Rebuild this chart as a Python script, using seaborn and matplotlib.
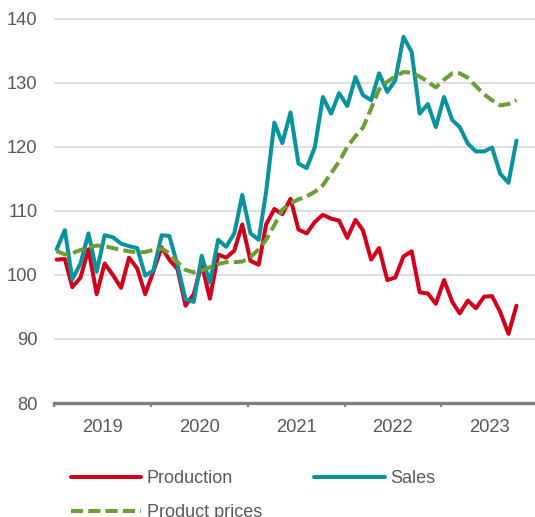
import matplotlib
matplotlib.use("Agg")
import matplotlib.pyplot as plt
import matplotlib.dates as mdates
import pandas as pd
import seaborn as sns

# Monthly values, Jan 2019 - Oct 2023 (index, 2019 = ~100)
months = pd.date_range("2019-01-01", periods=58, freq="MS")

production = [102.4, 102.5, 98.1, 99.6, 104.0, 97.0, 101.8, 100.0, 98.0, 102.7, 101.0, 97.0,
              100.6, 104.3, 102.4, 100.9, 95.2, 97.0, 101.7, 96.3, 103.2, 102.7, 103.8, 107.9,
              102.2, 101.6, 107.9, 110.3, 109.5, 111.9, 107.1, 106.5, 108.3, 109.4, 108.8, 108.5,
              105.8, 108.6, 107.0, 102.4, 104.2, 99.2, 99.6, 102.9, 103.7, 97.3, 97.1, 95.5,
              99.2, 95.8, 94.0, 96.0, 94.8, 96.6, 96.7, 94.2, 90.8, 95.2]

sales = [104.0, 107.0, 99.3, 101.8, 106.5, 100.5, 106.2, 105.9, 104.9, 104.5, 104.2, 99.9,
         100.7, 106.2, 106.1, 101.5, 96.2, 95.8, 103.0, 98.8, 105.5, 104.4, 106.5, 112.5,
         106.5, 105.5, 113.0, 123.8, 120.6, 125.4, 117.4, 116.7, 120.0, 127.8, 125.2, 128.4,
         126.4, 130.9, 128.1, 127.3, 131.5, 128.6, 130.4, 137.2, 134.8, 125.2, 126.7, 123.1,
         127.8, 124.2, 123.1, 120.5, 119.3, 119.3, 119.9, 115.8, 114.4, 121.0]

product_prices = [103.75, 103.2, 103.4, 103.9, 104.3, 104.6, 104.5, 104.2, 103.9, 103.7, 103.5, 103.6,
                  103.9, 104.1, 103.4, 102.0, 100.8, 100.4, 100.7, 101.2, 101.7, 102.0, 102.0, 102.1,
                  102.8, 104.0, 105.5, 107.8, 110.2, 111.2, 111.8, 112.3, 113.0, 114.0, 115.9, 117.7,
                  120.0, 121.7, 123.0, 126.0, 129.0, 130.2, 131.0, 131.7, 131.6, 131.0, 130.2, 129.3,
                  130.5, 131.5, 131.5, 130.8, 129.5, 128.2, 127.3, 126.5, 126.7, 127.3]

years = ["2019", "2020", "2021", "2022", "2023"]

RED = "#D0021B"
TEAL = "#0A939C"
GREEN = "#6B9E37"
GREY_TXT = "#595959"
GREY_AXIS = "#808080"

sns.set_theme(style="white")
plt.rcParams["font.family"] = ["Liberation Sans", "DejaVu Sans"]

df = pd.DataFrame({
    "date": months + pd.Timedelta(days=10),
    "Production": production,
    "Sales": sales,
    "Product prices": product_prices,
})

fig = plt.figure(figsize=(5.35, 5.17), dpi=100)
ax = fig.add_axes([54 / 535, 114 / 517, 481 / 535, 386 / 517])

lw = 2.9
sns.lineplot(data=df, x="date", y="Production", color=RED, linewidth=lw, ax=ax,
             label="Production", solid_joinstyle="round", solid_capstyle="round")
sns.lineplot(data=df, x="date", y="Sales", color=TEAL, linewidth=lw, ax=ax,
             label="Sales", solid_joinstyle="round", solid_capstyle="round")
sns.lineplot(data=df, x="date", y="Product prices", color=GREEN, linewidth=lw, ax=ax,
             label="Product prices", linestyle=(0, (3.0, 1.3)), dash_capstyle="butt")

ax.set_ylim(80, 140.3)
ax.set_yticks(range(80, 141, 10))
ax.set_xlim(pd.Timestamp("2019-01-01"), pd.Timestamp("2023-12-20"))

# year boundaries as small ticks, year labels centred in between
ax.xaxis.set_major_locator(mdates.YearLocator())
ax.xaxis.set_major_formatter(plt.NullFormatter())
ax.xaxis.set_minor_locator(mdates.MonthLocator(bymonth=7, bymonthday=2))
ax.xaxis.set_minor_formatter(mdates.DateFormatter("%Y"))
ax.tick_params(axis="x", which="major", bottom=True, length=3, width=1.6, color=GREY_AXIS)
ax.tick_params(axis="x", which="minor", bottom=True, length=0, pad=11.5,
               labelsize=13.2, labelcolor=GREY_TXT)
ax.tick_params(axis="y", length=0, pad=12, labelsize=13.2, labelcolor=GREY_TXT)

ax.set_xlabel("")
ax.set_ylabel("")
ax.grid(axis="y", color="#D9D9D9", linewidth=1.2)
ax.grid(axis="x", visible=False)
for side in ["top", "right", "left"]:
    ax.spines[side].set_visible(False)
ax.spines["bottom"].set_color(GREY_AXIS)
ax.spines["bottom"].set_linewidth(2.4)
ax.spines["bottom"].set_zorder(3)

handles, labels = ax.get_legend_handles_labels()
order = [0, 2, 1]
ax.legend([handles[i] for i in order], [labels[i] for i in order], ncol=2,
          loc="upper left", bbox_to_anchor=(71 / 535, 0.09), bbox_transform=fig.transFigure,
          frameon=False, fontsize=13, labelcolor=GREY_TXT, handlelength=3.9,
          handletextpad=0.3, columnspacing=2.9, labelspacing=0.92,
          borderpad=0, borderaxespad=0)

fig.savefig("out.png", dpi=100)
